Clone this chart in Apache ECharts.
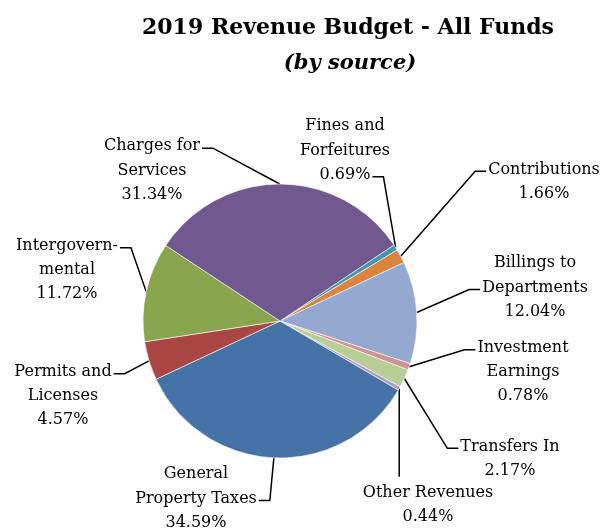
<!DOCTYPE html>
<html>
<head>
<meta charset="utf-8">
<script src="https://cdn.jsdelivr.net/npm/echarts@6/dist/echarts.min.js"></script>
<style>
html,body{margin:0;padding:0;background:#fff;}
#chart{width:613px;height:532px;}
</style>
</head>
<body>
<div id="chart"></div>
<script>
const categories = [
  'Fines and\nForfeitures',
  'Contributions',
  'Billings to\nDepartments',
  'Investment\nEarnings',
  'Transfers In',
  'Other Revenues',
  'General\nProperty Taxes',
  'Permits and\nLicenses',
  'Intergovern-\nmental',
  'Charges for\nServices'
];
const values = [0.69, 1.66, 12.04, 0.78, 2.17, 0.44, 34.59, 4.57, 11.72, 31.34];
const colors = ['#4198AF', '#DB843D', '#93A9CF', '#D19392', '#B9CD96', '#A99BBD', '#4572A7', '#AA4643', '#89A54E', '#71588F'];

// layout only: label centre, which text row the leader attaches to, and on which side
const labelPos = [[345, 150.5], [544, 181.5], [535, 287.5], [523, 372], [510, 458.5],
                  [428, 505], [196, 498.5], [63, 396], [67, 270], [152, 170.5]];
const leaderRow = [2, 0, 1, 0, 0, -1, 1, 0, 0, 0];        // -1 = from top, vertical
const leaderSide = ['right', 'left', 'left', 'left', 'left', 'top', 'right', 'right', 'right', 'right'];

const FONT = 'DejaVu Serif';
const FS = 16, LH = 24.3;
const measureCtx = document.createElement('canvas').getContext('2d');
measureCtx.font = FS + 'px "' + FONT + '"';

function labelText(i) { return categories[i] + '\n' + values[i].toFixed(2) + '%'; }

const chart = echarts.init(document.getElementById('chart'));

function arcMid(i) {
  const lay = chart.getModel().getSeriesByIndex(0).getData().getItemLayout(i);
  const mid = (lay.startAngle + lay.endAngle) / 2;
  return [lay.cx + lay.r * Math.cos(mid), lay.cy + lay.r * Math.sin(mid)];
}

chart.setOption({
  backgroundColor: '#ffffff',
  animation: false,
  title: [
    { text: '2019 Revenue Budget - All Funds', left: 343, top: 12, textAlign: 'center',
      textStyle: { fontFamily: FONT, fontWeight: 'bold', fontSize: 22, color: '#000' } },
    { text: '(by source)', left: 345, top: 48, textAlign: 'center',
      textStyle: { fontFamily: FONT, fontStyle: 'italic', fontWeight: 'bold', fontSize: 21, color: '#000' } }
  ],
  series: [{
    type: 'pie',
    center: [280, 321],
    radius: 137,
    startAngle: 33.7,
    clockwise: true,
    avoidLabelOverlap: false,
    itemStyle: { borderColor: '#ffffff', borderWidth: 0.6 },
    label: {
      show: true,
      position: 'outside',
      fontFamily: FONT,
      fontSize: FS,
      lineHeight: LH,
      color: '#000',
      align: 'center',
      formatter: p => labelText(p.dataIndex)
    },
    labelLine: { show: true, length: 10, length2: 10, lineStyle: { color: '#000', width: 1.5 } },
    labelLayout: function (params) {
      const i = params.dataIndex;
      const pos = labelPos[i];
      const lines = labelText(i).split('\n');
      const top = pos[1] - lines.length * LH / 2;
      const a = arcMid(i);
      let pts;
      if (leaderRow[i] < 0) {
        const endY = top - 4;
        pts = [a, [a[0], endY], [a[0], endY]];
      } else {
        const row = leaderRow[i];
        const w = measureCtx.measureText(lines[row]).width;
        const y = top + LH * (row + 0.5) + 2;
        const dir = leaderSide[i] === 'right' ? 1 : -1;
        const endX = pos[0] + dir * (w / 2 + 2);
        pts = [a, [endX + dir * 11, y], [endX, y]];
      }
      return { x: pos[0], y: pos[1], align: 'center', verticalAlign: 'middle', labelLinePoints: pts };
    },
    data: categories.map((c, i) => ({ name: c, value: values[i], itemStyle: { color: colors[i] } }))
  }]
});
</script>
</body>
</html>
